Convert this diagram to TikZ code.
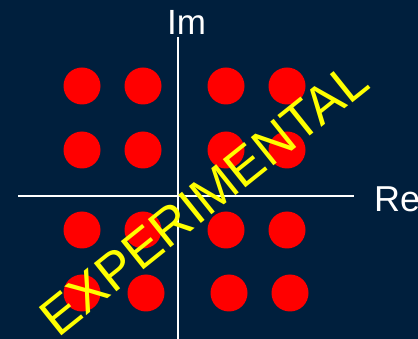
\documentclass[tikz,border=0pt]{standalone}
\usepackage{fontspec}
\setmainfont{Liberation Sans}
\definecolor{bgnavy}{RGB}{0,31,61}
\definecolor{dotred}{RGB}{255,0,0}
\definecolor{stampyellow}{RGB}{255,255,0}
\tikzset{
  pt/.style={circle, fill=dotred, draw=none, minimum size=37pt, inner sep=0pt},
  axis/.style={draw=white, line width=2pt},
  axlabel/.style={text=white, inner sep=0pt, font=\fontsize{35}{35}\selectfont},
  stamp/.style={text=stampyellow, inner sep=0pt, font=\fontsize{52.5}{52.5}\selectfont}
}
\begin{document}
\begin{tikzpicture}[x=1pt,y=-1pt]
\useasboundingbox (0,0) rectangle (418,339);
\fill[bgnavy] (0,0) rectangle (418,339);
% axes
\coordinate (xl) at (18,196);
\coordinate (xr) at (354,196);
\coordinate (yt) at (178,37);
\coordinate (yb) at (178,339);
\draw[axis] (xl) -- (xr);
\draw[axis] (yt) -- (yb);
\node[axlabel, anchor=base west] (im) at (167,35) {Im};
\node[axlabel, anchor=base west, font=\fontsize{36}{36}\selectfont] (re) at (374,212) {Re};
% constellation points
\node[pt] (p11) at (82,86) {};
\node[pt] (p12) at (143,86) {};
\node[pt] (p13) at (226,86) {};
\node[pt] (p14) at (287,86) {};
\node[pt] (p21) at (82,150) {};
\node[pt] (p22) at (143,150) {};
\node[pt] (p23) at (226,150) {};
\node[pt] (p24) at (287,150) {};
\node[pt] (p31) at (82,230) {};
\node[pt] (p32) at (143,230) {};
\node[pt] (p33) at (226,230) {};
\node[pt] (p34) at (287,230) {};
\node[pt] (p41) at (82,293) {};
\node[pt] (p42) at (146,293) {};
\node[pt] (p43) at (229,293) {};
\node[pt] (p44) at (290,293) {};
% stamp
\node[stamp, rotate=38.7] (exp) at (204,198.5) {EXPERIMENTAL};
\end{tikzpicture}
\end{document}
